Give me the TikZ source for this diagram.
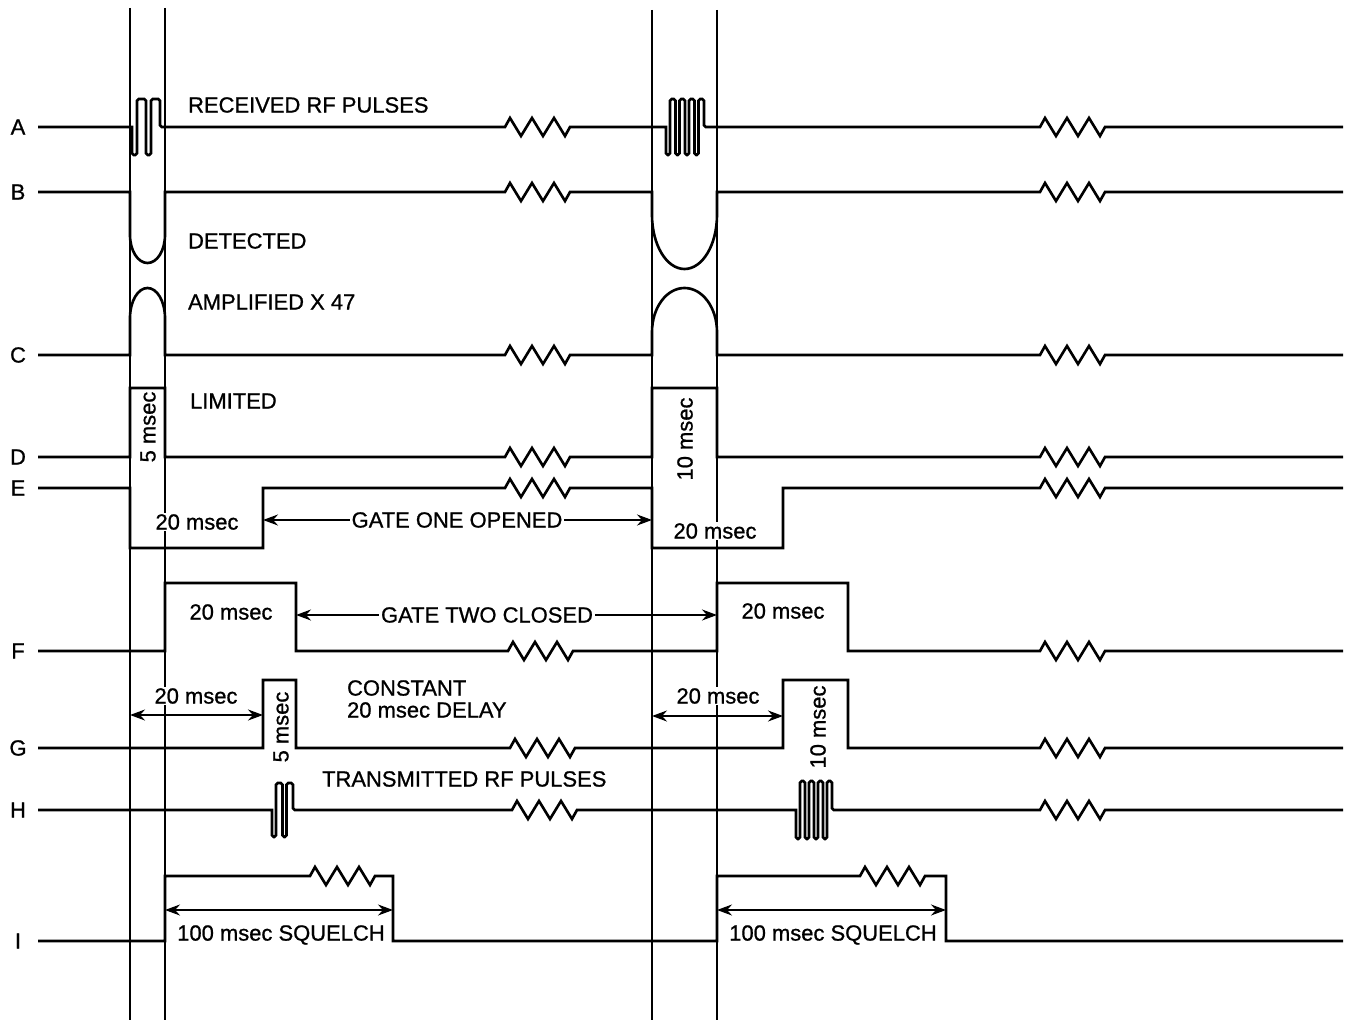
\documentclass[tikz,border=0pt]{standalone}
\usepackage{fontspec}
\setmainfont{Liberation Sans}[BoldFont={Liberation Sans}, BoldFeatures={FakeBold=0.9}]
\usetikzlibrary{arrows.meta,positioning}

\begin{document}
\begin{tikzpicture}[x=0.02cm, y=-0.02cm,
  font=\fontsize{12.5}{12.5}\selectfont\bfseries, >={Stealth[length=3mm,width=2.2mm]},
  sig/.style={line width=1.5pt, line join=miter},
  guide/.style={line width=0.7pt},
  lab/.style={inner sep=1pt},
  msec/.style={lab, fill=white, inner sep=0.5pt},
  vlab/.style={lab, rotate=90},
  dim/.style={line width=0.8pt},
  zz/.style={insert path={-- ++(5,-9) -- ++(11,18) -- ++(11,-18) -- ++(11,18) -- ++(11,-18) -- ++(11,18) -- ++(5,-9)}},
  burst/.style n args={4}{insert path={[rounded corners=1pt] -- ++(0,#1)
      \foreach \k in {2,...,#2}{ -- ++(#3,0) -- ++(0,-2*#1) -- ++(#4,0) -- ++(0,2*#1)}
      -- ++(#3,0) -- ++(0,-2*#1) -- ++(#4,0) -- ++(0,#1) [sharp corners]}}]
\useasboundingbox (0,0) rectangle (1353,1020);
% time markers
\foreach \x/\t in {130/8,165/8,652/10,717/10}
  \draw[guide] (\x,\t) -- (\x,1020);
% line letters
\foreach \n/\y in {A/127,B/192,C/355,D/457,E/488,F/651,G/748,H/810,I/941}
  \node[lab] (l\n) at (18,\y) {\n};
% A: received rf pulses
\draw[sig] (38,127) -- (132,127) [burst={28}{2}{5}{9}] -- (505,127) [zz] -- (666,127)
  [burst={28}{4}{4}{5.5}] -- (1040,127) [zz] -- (1343,127);
% B: detected
\draw[sig] (38,192) -- (130,192) -- (130,235) .. controls (130,250.5) and (137.8,263) .. (147.5,263)
  .. controls (157.2,263) and (165,250.5) .. (165,235) -- (165,192) -- (505,192) [zz] -- (652,192)
  -- (652,215) .. controls (652,244.8) and (666.5,269) .. (684.5,269)
  .. controls (702.5,269) and (717,244.8) .. (717,215) -- (717,192) -- (1040,192) [zz] -- (1343,192);
% C: amplified
\draw[sig] (38,355) -- (130,355) -- (130,318) .. controls (130,301.4) and (137.8,288) .. (147.5,288)
  .. controls (157.2,288) and (165,301.4) .. (165,318) -- (165,355) -- (505,355) [zz] -- (652,355)
  -- (652,332) .. controls (652,307.7) and (666.5,288) .. (684.5,288)
  .. controls (702.5,288) and (717,307.7) .. (717,332) -- (717,355) -- (1040,355) [zz] -- (1343,355);
% D: limited
\draw[sig] (38,457) -- (130,457) -- (130,388) -- (165,388) -- (165,457) -- (505,457) [zz] -- (652,457)
  -- (652,388) -- (717,388) -- (717,457) -- (1040,457) [zz] -- (1343,457);
% E: gate one
\draw[sig] (38,488) -- (130,488) -- (130,548) -- (263,548) -- (263,488) -- (505,488) [zz] -- (652,488)
  -- (652,548) -- (783,548) -- (783,488) -- (1040,488) [zz] -- (1343,488);
% F: gate two
\draw[sig] (38,651) -- (165,651) -- (165,583) -- (296,583) -- (296,651) -- (508,651) [zz] -- (717,651)
  -- (717,583) -- (848,583) -- (848,651) -- (1040,651) [zz] -- (1343,651);
% G: delayed pulse
\draw[sig] (38,748) -- (263,748) -- (263,680) -- (296,680) -- (296,748) -- (510,748) [zz] -- (783,748)
  -- (783,680) -- (848,680) -- (848,748) -- (1040,748) [zz] -- (1343,748);
% H: transmitted rf pulses
\draw[sig] (38,810) -- (272,810) [burst={27}{2}{4}{6.5}] -- (512,810) [zz] -- (796,810)
  [burst={29}{4}{4}{5}] -- (1040,810) [zz] -- (1343,810);
% I: squelch
\draw[sig] (38,941) -- (165,941) -- (165,876) -- (310,876) [zz] -- (393,876) -- (393,941) -- (717,941)
  -- (717,876) -- (860,876) [zz] -- (946,876) -- (946,941) -- (1343,941);
% texts
\node[lab, anchor=west] (rx) at (186,105) {RECEIVED RF PULSES};
\node[lab, anchor=west] (det) at (186,241) {DETECTED};
\node[lab, anchor=west] (amp) at (186,302) {AMPLIFIED X 47};
\node[lab, anchor=west] (lim) at (188,401) {LIMITED};
\node[vlab] (dl) at (148,427) {5 msec};
\node[vlab] (dr) at (685,439) {10 msec};
\node[msec] (el) at (197,522) {20 msec};
\node[msec] (er) at (715,531) {20 msec};
\node[lab] (g1) at (457,520) {GATE ONE OPENED};
\coordinate (g1l) at (263,520); \coordinate (g1r) at (652,520);
\draw[->, dim] (g1) -- (g1l); \draw[->, dim] (g1) -- (g1r);
\node[lab] (fl) at (231,612) {20 msec};
\node[lab] (fr) at (783,611) {20 msec};
\node[lab] (g2) at (487,615) {GATE TWO CLOSED};
\coordinate (g2l) at (296,615); \coordinate (g2r) at (717,615);
\draw[->, dim] (g2) -- (g2l); \draw[->, dim] (g2) -- (g2r);
\node[msec] (dgl) at (196,696) {20 msec};
\node[msec] (dgr) at (718,696) {20 msec};
\coordinate (d1a) at (130,715); \coordinate (d1b) at (263,715);
\coordinate (d2a) at (652,716); \coordinate (d2b) at (783,716);
\draw[<->, dim] (d1a) -- (d1b); \draw[<->, dim] (d2a) -- (d2b);
\node[vlab] (gl) at (281,727) {5 msec};
\node[vlab] (gr) at (818,727) {10 msec};
\node[lab, anchor=west, align=left] (cd) at (345,699) {CONSTANT\\20 msec DELAY};
\node[lab, anchor=west] (tx) at (320,779) {TRANSMITTED RF PULSES};
\coordinate (s1a) at (165,910); \coordinate (s1b) at (393,910);
\coordinate (s2a) at (717,910); \coordinate (s2b) at (946,910);
\draw[<->, dim] (s1a) -- (s1b); \draw[<->, dim] (s2a) -- (s2b);
\node[lab] (sq1) at (281,935) {100 msec SQUELCH};
\node[lab] (sq2) at (833,935) {100 msec SQUELCH};
\end{tikzpicture}
\end{document}
